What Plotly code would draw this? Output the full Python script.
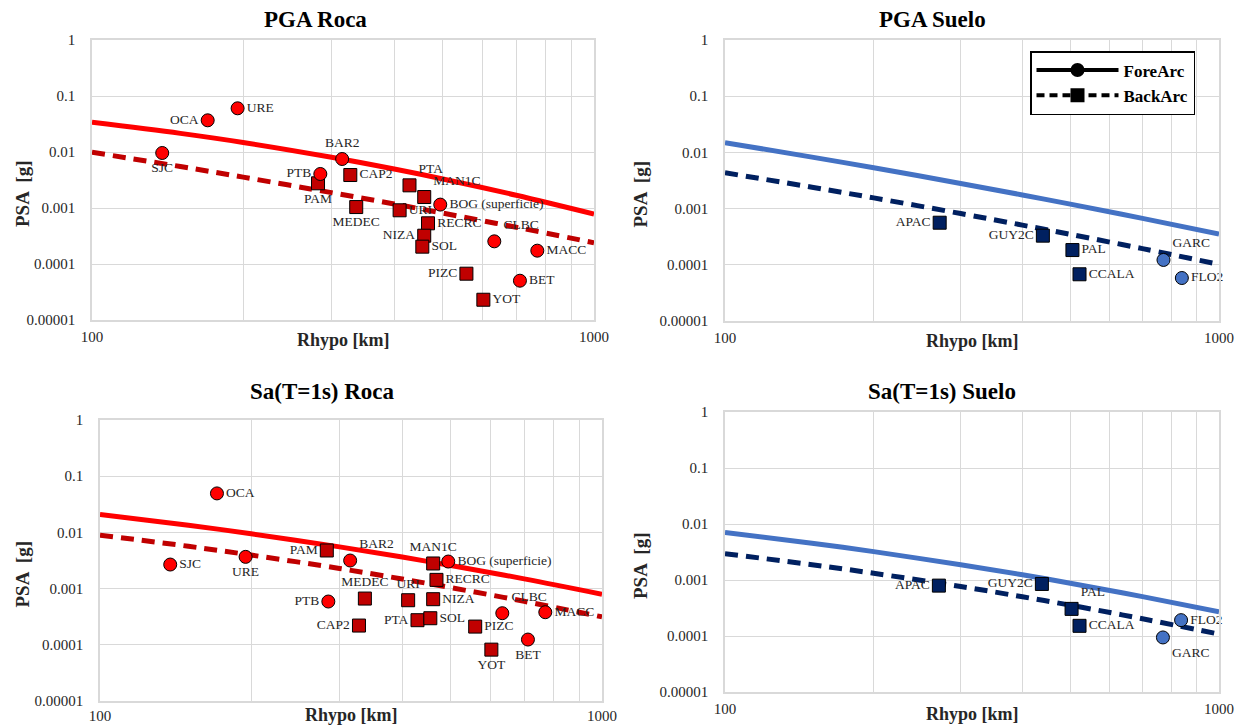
import plotly.graph_objects as go

W, H = 1243, 725
SERIF = "Liberation Serif, Times New Roman, serif"

# ---------------- data ----------------
line_r = [100, 150, 200, 300, 400, 500, 700, 1000]

# PGA Roca
pga_roca_fa_sta = ["SJC", "OCA", "URE", "PTB", "BAR2", "BOG (superficie)", "CLBC", "MACC", "BET"]
pga_roca_fa_r = [138, 170, 195, 285, 315, 494, 633, 771, 712]
pga_roca_fa_psa = [0.0096, 0.0368, 0.0603, 0.00405, 0.0075, 0.00115, 0.000254, 0.000173, 0.0000503]
pga_roca_ba_sta = ["PAM", "CAP2", "MEDEC", "PTA", "MAN1C", "URI", "RECRC", "NIZA", "SOL", "PIZC", "YOT"]
pga_roca_ba_r = [282, 327, 336, 429, 459, 410, 467, 459, 455, 557, 602]
pga_roca_ba_psa = [0.00276, 0.00388, 0.00104, 0.00254, 0.00157, 0.00091, 0.000533, 0.00032, 0.000204, 0.0000671, 0.000023]
pga_roca_fa_line = [0.0339, 0.0215, 0.0148, 0.00805, 0.00496, 0.0033, 0.00169, 0.00078]
pga_roca_ba_line = [0.00989, 0.0055, 0.00356, 0.00188, 0.00118, 0.000809, 0.000453, 0.00024]

# PGA Suelo
pga_suelo_fa_sta = ["GARC", "FLO2"]
pga_suelo_fa_r = [772, 841]
pga_suelo_fa_psa = [0.000122, 0.0000582]
pga_suelo_ba_sta = ["APAC", "GUY2C", "PAL", "CCALA"]
pga_suelo_ba_r = [272, 440, 505, 522]
pga_suelo_ba_psa = [0.000561, 0.00033, 0.000183, 0.0000678]
pga_suelo_fa_line = [0.0149, 0.00824, 0.00532, 0.0028, 0.00175, 0.0012, 0.00067, 0.000353]
pga_suelo_ba_line = [0.00435, 0.0024, 0.00155, 0.000817, 0.000508, 0.000348, 0.000194, 0.000102]

# Sa(T=1s) Roca
sa_roca_fa_sta = ["OCA", "SJC", "URE", "BAR2", "PTB", "BOG (superficie)", "CLBC", "MACC", "BET"]
sa_roca_fa_r = [171, 138, 195, 315, 285, 494, 633, 771, 712]
sa_roca_fa_psa = [0.0494, 0.00268, 0.00367, 0.00316, 0.000589, 0.00303, 0.000365, 0.00038, 0.000124]
sa_roca_ba_sta = ["PAM", "MAN1C", "RECRC", "MEDEC", "URI", "NIZA", "CAP2", "PTA", "SOL", "PIZC", "YOT"]
sa_roca_ba_r = [283, 461, 468, 337, 411, 461, 328, 429, 455, 559, 602]
sa_roca_ba_psa = [0.00477, 0.0028, 0.00143, 0.000665, 0.000621, 0.000648, 0.00022, 0.000274, 0.000297, 0.000211, 0.000082]
sa_roca_fa_line = [0.0208, 0.0134, 0.00946, 0.00552, 0.00364, 0.00258, 0.00149, 0.000794]
sa_roca_ba_line = [0.00894, 0.00566, 0.00395, 0.00228, 0.00148, 0.00104, 0.000594, 0.000314]

# Sa(T=1s) Suelo
sa_suelo_fa_sta = ["FLO2", "GARC"]
sa_suelo_fa_r = [838, 770]
sa_suelo_fa_psa = [0.000192, 0.0000942]
sa_suelo_ba_sta = ["APAC", "GUY2C", "PAL", "CCALA"]
sa_suelo_ba_r = [271, 438, 503, 522]
sa_suelo_ba_psa = [0.000794, 0.00085, 0.000305, 0.000152]
sa_suelo_fa_line = [0.00708, 0.00455, 0.00321, 0.00187, 0.00124, 0.000875, 0.000505, 0.00027]
sa_suelo_ba_line = [0.00295, 0.00188, 0.00132, 0.000766, 0.000502, 0.000355, 0.000203, 0.000108]

x_tickvals = [100, 200, 300, 400, 500, 600, 700, 800, 900, 1000]
x_ticktext = ["100", "", "", "", "", "", "", "", "", "1000"]
y_tickvals = [0.00001, 0.0001, 0.001, 0.01, 0.1, 1]
y_ticktext = ["0.00001", "0.0001", "0.001", "0.01", "0.1", "1"]

# label positions (style)
pos_pga_roca_fa = ["bottom center", "middle left", "middle right", "middle left", "top center",
                   "middle right", "top right", "middle right", "middle right"]
pos_pga_roca_ba = ["bottom center", "middle right", "bottom center", "top right", "top right",
                   "middle right", "middle right", "middle left", "middle right", "middle left", "middle right"]
pos_pga_suelo_fa = ["top right", "middle right"]
pos_pga_suelo_ba = ["middle left", "middle left", "middle right", "middle right"]
pos_sa_roca_fa = ["middle right", "middle right", "bottom center", "top right", "middle left",
                  "middle right", "top right", "middle right", "bottom center"]
pos_sa_roca_ba = ["middle left", "top center", "middle right", "top center", "top center", "middle right",
                  "middle left", "middle left", "middle right", "middle right", "bottom center"]
pos_sa_suelo_fa = ["middle right", "bottom right"]
pos_sa_suelo_ba = ["middle left", "middle left", "top right", "middle right"]

RED = "#FF0000"
DRED = "#C00000"
BLUE = "#4472C4"
NAVY = "#002060"

# panel geometry in pixels: (left, right, top, bottom)
panels = [
    (92, 594, 40, 320),
    (725, 1219, 40, 321),
    (100, 602, 420, 701),
    (725, 1219, 412, 692),
]
x_standoff = [2, 2, 0, 2]

fig = go.Figure()


def add_panel(idx, fa_r, fa_psa, fa_sta, fa_pos, ba_r, ba_psa, ba_sta, ba_pos,
              fa_line, ba_line, c_fa_line, c_fa_mk, c_ba_line, c_ba_mk):
    xa = "x" if idx == 1 else f"x{idx}"
    ya = "y" if idx == 1 else f"y{idx}"
    fig.add_trace(go.Scatter(x=line_r, y=fa_line, mode="lines", xaxis=xa, yaxis=ya,
                             line=dict(color=c_fa_line, width=5, shape="spline"),
                             showlegend=False, hoverinfo="skip"))
    fig.add_trace(go.Scatter(x=line_r, y=ba_line, mode="lines", xaxis=xa, yaxis=ya,
                             line=dict(color=c_ba_line, width=5, dash="13px,8px", shape="spline"),
                             showlegend=False, hoverinfo="skip"))
    fig.add_trace(go.Scatter(x=ba_r, y=ba_psa, mode="markers+text", xaxis=xa, yaxis=ya,
                             text=ba_sta, textposition=ba_pos, cliponaxis=False,
                             textfont=dict(family=SERIF, size=13.5, color="#262626"),
                             marker=dict(symbol="square", size=13, color=c_ba_mk,
                                         line=dict(color="#000000", width=1)),
                             showlegend=False))
    fig.add_trace(go.Scatter(x=fa_r, y=fa_psa, mode="markers+text", xaxis=xa, yaxis=ya,
                             text=fa_sta, textposition=fa_pos, cliponaxis=False,
                             textfont=dict(family=SERIF, size=13.5, color="#262626"),
                             marker=dict(symbol="circle", size=13, color=c_fa_mk,
                                         line=dict(color="#000000", width=1)),
                             showlegend=False))


add_panel(1, pga_roca_fa_r, pga_roca_fa_psa, pga_roca_fa_sta, pos_pga_roca_fa,
          pga_roca_ba_r, pga_roca_ba_psa, pga_roca_ba_sta, pos_pga_roca_ba,
          pga_roca_fa_line, pga_roca_ba_line, RED, RED, DRED, DRED)
add_panel(2, pga_suelo_fa_r, pga_suelo_fa_psa, pga_suelo_fa_sta, pos_pga_suelo_fa,
          pga_suelo_ba_r, pga_suelo_ba_psa, pga_suelo_ba_sta, pos_pga_suelo_ba,
          pga_suelo_fa_line, pga_suelo_ba_line, BLUE, BLUE, NAVY, NAVY)
add_panel(3, sa_roca_fa_r, sa_roca_fa_psa, sa_roca_fa_sta, pos_sa_roca_fa,
          sa_roca_ba_r, sa_roca_ba_psa, sa_roca_ba_sta, pos_sa_roca_ba,
          sa_roca_fa_line, sa_roca_ba_line, RED, RED, DRED, DRED)
add_panel(4, sa_suelo_fa_r, sa_suelo_fa_psa, sa_suelo_fa_sta, pos_sa_suelo_fa,
          sa_suelo_ba_r, sa_suelo_ba_psa, sa_suelo_ba_sta, pos_sa_suelo_ba,
          sa_suelo_fa_line, sa_suelo_ba_line, BLUE, BLUE, NAVY, NAVY)

# legend entries (black)
fig.add_trace(go.Scatter(x=[None], y=[None], mode="lines+markers", name="<b>ForeArc</b>",
                         xaxis="x2", yaxis="y2",
                         line=dict(color="black", width=4),
                         marker=dict(symbol="circle", size=14, color="black")))
fig.add_trace(go.Scatter(x=[None], y=[None], mode="lines+markers", name="<b>BackArc</b>",
                         xaxis="x2", yaxis="y2",
                         line=dict(color="black", width=4, dash="8px,5px"),
                         marker=dict(symbol="square", size=14, color="black")))

layout = dict(
    width=W, height=H,
    margin=dict(l=0, r=0, t=0, b=0, autoexpand=False),
    paper_bgcolor="white", plot_bgcolor="white",
    showlegend=True,
    legend=dict(x=1030 / W, y=1 - 51 / H, xanchor="left", yanchor="top",
                bgcolor="white", bordercolor="black", borderwidth=1.5,
                font=dict(family=SERIF, size=17, color="black"),
                tracegroupgap=0, itemwidth=82),
    font=dict(family=SERIF, color="#262626"),
)

annotations = []
titles = ["PGA Roca", "PGA Suelo", "Sa(T=1s) Roca", "Sa(T=1s) Suelo"]
title_x = [315, 933, 322, 942]
title_y = [19, 19, 392, 392]
ytitle_x = [22, 640, 22, 640]
xtitle_y = [340, 341, 715, 714]

for i, (l, r, t, b) in enumerate(panels, start=1):
    xk = "xaxis" if i == 1 else f"xaxis{i}"
    yk = "yaxis" if i == 1 else f"yaxis{i}"
    xa = "x" if i == 1 else f"x{i}"
    ya = "y" if i == 1 else f"y{i}"
    layout[xk] = dict(
        type="log", range=[2, 3], domain=[l / W, r / W], anchor=ya, automargin=False,
        tickmode="array", tickvals=x_tickvals, ticktext=x_ticktext,
        showgrid=True, gridcolor="#D9D9D9", gridwidth=1,
        showline=True, linecolor="#D9D9D9", linewidth=1.5, mirror=True,
        ticks="", ticklabelstandoff=x_standoff[i-1],
        tickfont=dict(family=SERIF, size=15, color="#262626"),
        zeroline=False, fixedrange=True,
    )
    layout[yk] = dict(
        type="log", range=[-5, 0], domain=[1 - b / H, 1 - t / H], anchor=xa, automargin=False,
        tickmode="array", tickvals=y_tickvals, ticktext=y_ticktext,
        showgrid=True, gridcolor="#D9D9D9", gridwidth=1,
        showline=True, linecolor="#D9D9D9", linewidth=1.5, mirror=True,
        ticks="", ticklabelstandoff=12,
        tickfont=dict(family=SERIF, size=15, color="#262626"),
        zeroline=False, fixedrange=True,
    )
    annotations.append(dict(text=f"<b>{titles[i-1]}</b>", x=title_x[i-1] / W, y=1 - title_y[i-1] / H,
                            xref="paper", yref="paper", showarrow=False,
                            xanchor="center", yanchor="middle",
                            font=dict(family=SERIF, size=23, color="black")))
    annotations.append(dict(text="<b>Rhypo [km]</b>", x=(l + r) / 2 / W, y=1 - xtitle_y[i-1] / H,
                            xref="paper", yref="paper", showarrow=False,
                            xanchor="center", yanchor="middle",
                            font=dict(family=SERIF, size=18, color="#262626")))
    annotations.append(dict(text="<b>PSA  [g]</b>", x=ytitle_x[i-1] / W, y=1 - ((t + b) / 2 + 14) / H,
                            xref="paper", yref="paper", showarrow=False, textangle=-90,
                            xanchor="center", yanchor="middle",
                            font=dict(family=SERIF, size=19, color="#262626")))

layout["annotations"] = annotations
fig.update_layout(**layout)

fig.write_html("out.html",
               config={"displayModeBar": False},
               post_script="document.body.style.margin='0px';document.body.style.overflow='hidden';")
